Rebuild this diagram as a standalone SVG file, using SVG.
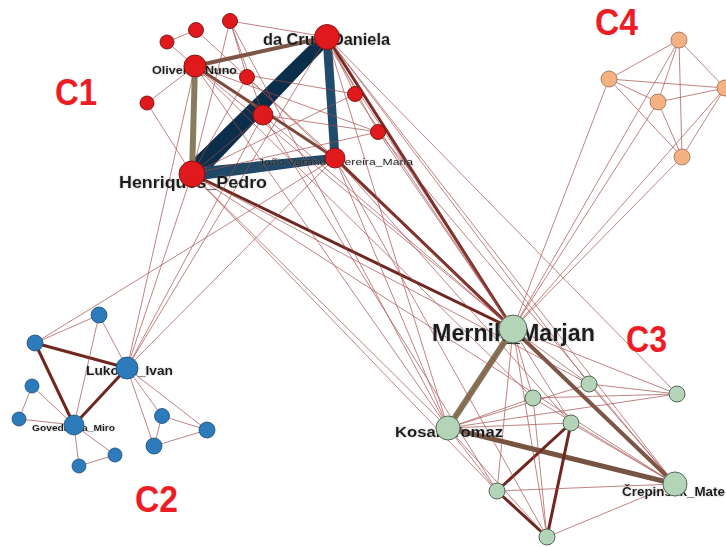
<svg xmlns="http://www.w3.org/2000/svg" width="726" height="547" viewBox="0 0 726 547">
  <style>
    .thin { stroke: #a44848; stroke-width: 0.8; fill: none; opacity: 0.85; }
    .w3 { stroke: #70271f; stroke-width: 3; fill: none; }
    .lbl { font-family: "Liberation Sans", Arial, sans-serif; fill: #1c1c1c; filter: url(#halo); }
    .b { font-weight: bold; }
    .cl { font-family: "Liberation Sans", Arial, sans-serif; font-weight: bold; font-size: 37px; fill: #ee1c25; }
    .red circle { fill: #e01a1c; stroke: #7a0e0e; stroke-width: 0.9; }
    .blue circle { fill: #2d7bba; stroke: #1c4e78; stroke-width: 0.8; }
    .green circle { fill: #b4d4b7; stroke: #56685a; stroke-width: 1; }
    .orange circle { fill: #f4b182; stroke: #9a6c4e; stroke-width: 0.8; }
  </style>
  <defs>
    <filter id="halo" x="-10%" y="-40%" width="120%" height="180%">
      <feGaussianBlur in="SourceAlpha" stdDeviation="1.3" result="b"/>
      <feFlood flood-color="#8c8c8c" flood-opacity="0.55"/>
      <feComposite in2="b" operator="in" result="g"/>
      <feMerge><feMergeNode in="g"/><feMergeNode in="SourceGraphic"/></feMerge>
    </filter>
  </defs>
  <rect width="726" height="547" fill="#ffffff"/>

  <!-- connectors -->
  <g id="edges">
    <!-- weighted ties -->
    <polygon points="185,167 199,181 331,42 323,32" fill="#0b2e4a"/>
    <line x1="327" y1="37" x2="335" y2="158" stroke="#214c6b" stroke-width="9"/>
    <polygon points="191,168 193,181 336,162 334,154" fill="#204968"/>
    <line x1="195" y1="66" x2="192" y2="174" stroke="#877c5d" stroke-width="6"/>
    <line x1="195" y1="66" x2="327" y2="37" stroke="#7b5646" stroke-width="4"/>
    <line x1="195" y1="66" x2="335" y2="158" stroke="#7a4a3a" stroke-width="3"/>
    <line x1="513" y1="329" x2="448" y2="428" stroke="#807657" stroke-width="6"/>
    <line x1="513" y1="329" x2="675" y2="484" stroke="#765846" stroke-width="4"/>
    <line x1="448" y1="428" x2="675" y2="484" stroke="#755541" stroke-width="5"/>
    <line class="w3" x1="513" y1="329" x2="192" y2="174"/>
    <line class="w3" x1="513" y1="329" x2="335" y2="158"/>
    <line class="w3" x1="513" y1="329" x2="327" y2="37"/>
    <line class="w3" x1="497" y1="491" x2="571" y2="423"/>
    <line class="w3" x1="547" y1="537" x2="571" y2="423"/>
    <line class="w3" x1="497" y1="491" x2="547" y2="537"/>
    <line class="w3" x1="35" y1="343" x2="127" y2="368"/>
    <line class="w3" x1="35" y1="343" x2="74" y2="425"/>
    <line class="w3" x1="74" y1="425" x2="127" y2="368"/>

    <!-- single ties -->
    <g class="thin">
      <!-- C1 inner -->
      <line x1="167" y1="42" x2="196" y2="30"/>
      <line x1="167" y1="42" x2="195" y2="66"/>
      <line x1="196" y1="30" x2="247" y2="77"/>
      <line x1="230" y1="21" x2="327" y2="37"/>
      <line x1="230" y1="21" x2="247" y2="77"/>
      <line x1="230" y1="21" x2="192" y2="174"/>
      <line x1="230" y1="21" x2="263" y2="115"/>
      <line x1="147" y1="103" x2="195" y2="66"/>
      <line x1="147" y1="103" x2="192" y2="174"/>
      <line x1="247" y1="77" x2="192" y2="174"/>
      <line x1="247" y1="77" x2="335" y2="158"/>
      <line x1="355" y1="94" x2="327" y2="37"/>
      <line x1="355" y1="94" x2="192" y2="174"/>
      <line x1="378" y1="132" x2="327" y2="37"/>
      <line x1="378" y1="132" x2="263" y2="115"/>
      <line x1="378" y1="132" x2="192" y2="174"/>
      <line x1="263" y1="115" x2="192" y2="174"/>
      <line x1="195" y1="66" x2="355" y2="94"/>
      <line x1="195" y1="66" x2="378" y2="132"/>
      <line x1="330" y1="40" x2="513" y2="329"/>
      <line x1="324" y1="39" x2="513" y2="329"/>
      <!-- C1 to C3 -->
      <line x1="195" y1="66" x2="513" y2="329"/>
      <line x1="195" y1="66" x2="448" y2="428"/>
      <line x1="195" y1="66" x2="533" y2="398"/>
      <line x1="192" y1="174" x2="448" y2="428"/>
      <line x1="192" y1="174" x2="497" y2="491"/>
      <line x1="192" y1="174" x2="675" y2="484"/>
      <line x1="192" y1="174" x2="589" y2="384"/>
      <line x1="327" y1="37" x2="448" y2="428"/>
      <line x1="327" y1="37" x2="589" y2="384"/>
      <line x1="327" y1="37" x2="675" y2="484"/>
      <line x1="327" y1="37" x2="677" y2="394"/>
      <line x1="335" y1="158" x2="448" y2="428"/>
      <line x1="335" y1="158" x2="571" y2="423"/>
      <line x1="335" y1="158" x2="547" y2="537"/>
      <line x1="335" y1="158" x2="675" y2="484"/>
      <line x1="263" y1="115" x2="513" y2="329"/>
      <line x1="263" y1="115" x2="497" y2="491"/>
      <line x1="355" y1="94" x2="513" y2="329"/>
      <line x1="378" y1="132" x2="513" y2="329"/>
      <line x1="378" y1="132" x2="675" y2="484"/>
      <line x1="247" y1="77" x2="513" y2="329"/>
      <line x1="230" y1="21" x2="448" y2="428"/>
      <!-- C1 to C2 -->
      <line x1="127" y1="368" x2="195" y2="66"/>
      <line x1="127" y1="368" x2="192" y2="174"/>
      <line x1="127" y1="368" x2="327" y2="37"/>
      <line x1="127" y1="368" x2="263" y2="115"/>
      <line x1="127" y1="368" x2="335" y2="158"/>
      <line x1="35" y1="343" x2="335" y2="158"/>
      <!-- C2 inner -->
      <line x1="35" y1="343" x2="99" y2="315"/>
      <line x1="99" y1="315" x2="127" y2="368"/>
      <line x1="99" y1="315" x2="74" y2="425"/>
      <line x1="32" y1="386" x2="19" y2="419"/>
      <line x1="32" y1="386" x2="74" y2="425"/>
      <line x1="19" y1="419" x2="74" y2="425"/>
      <line x1="74" y1="425" x2="79" y2="466"/>
      <line x1="74" y1="425" x2="115" y2="455"/>
      <line x1="79" y1="466" x2="115" y2="455"/>
      <line x1="127" y1="368" x2="162" y2="416"/>
      <line x1="127" y1="368" x2="154" y2="446"/>
      <line x1="127" y1="368" x2="207" y2="430"/>
      <line x1="162" y1="416" x2="207" y2="430"/>
      <line x1="154" y1="446" x2="207" y2="430"/>
      <line x1="162" y1="416" x2="154" y2="446"/>
      <!-- C3 inner -->
      <line x1="513" y1="329" x2="589" y2="384"/>
      <line x1="513" y1="329" x2="677" y2="394"/>
      <line x1="513" y1="329" x2="533" y2="398"/>
      <line x1="513" y1="329" x2="571" y2="423"/>
      <line x1="513" y1="329" x2="497" y2="491"/>
      <line x1="513" y1="329" x2="547" y2="537"/>
      <line x1="513" y1="329" x2="448" y2="428"/>
      <line x1="448" y1="428" x2="589" y2="384"/>
      <line x1="448" y1="428" x2="677" y2="394"/>
      <line x1="448" y1="428" x2="533" y2="398"/>
      <line x1="448" y1="428" x2="571" y2="423"/>
      <line x1="448" y1="428" x2="497" y2="491"/>
      <line x1="448" y1="428" x2="547" y2="537"/>
      <line x1="589" y1="384" x2="677" y2="394"/>
      <line x1="533" y1="398" x2="677" y2="394"/>
      <line x1="589" y1="384" x2="675" y2="484"/>
      <line x1="571" y1="423" x2="675" y2="484"/>
      <line x1="533" y1="398" x2="675" y2="484"/>
      <line x1="497" y1="491" x2="675" y2="484"/>
      <line x1="547" y1="537" x2="675" y2="484"/>
      <line x1="533" y1="398" x2="547" y2="537"/>
      <!-- C3 to C4 -->
      <line x1="513" y1="329" x2="679" y2="40"/>
      <line x1="513" y1="329" x2="609" y2="79"/>
      <line x1="513" y1="329" x2="658" y2="102"/>
      <line x1="513" y1="329" x2="725" y2="88"/>
      <line x1="513" y1="329" x2="682" y2="157"/>
      <!-- C4 inner -->
      <line x1="679" y1="40" x2="609" y2="79"/>
      <line x1="679" y1="40" x2="725" y2="88"/>
      <line x1="679" y1="40" x2="658" y2="102"/>
      <line x1="679" y1="40" x2="682" y2="157"/>
      <line x1="609" y1="79" x2="725" y2="88"/>
      <line x1="609" y1="79" x2="658" y2="102"/>
      <line x1="609" y1="79" x2="682" y2="157"/>
      <line x1="658" y1="102" x2="725" y2="88"/>
      <line x1="658" y1="102" x2="682" y2="157"/>
      <line x1="725" y1="88" x2="682" y2="157"/>
    </g>
  </g>

  <!-- community captions -->
  <text class="cl" x="55" y="105" textLength="42" lengthAdjust="spacingAndGlyphs">C1</text>
  <text class="cl" x="135" y="512" textLength="43" lengthAdjust="spacingAndGlyphs">C2</text>
  <text class="cl" x="626" y="352" textLength="41" lengthAdjust="spacingAndGlyphs">C3</text>
  <text class="cl" x="595" y="35" textLength="43" lengthAdjust="spacingAndGlyphs">C4</text>

  <!-- C1 members -->
  <g id="da-cruz-daniela" class="red">
    <text class="lbl b" x="263" y="45" font-size="16" textLength="127" lengthAdjust="spacingAndGlyphs">da Cruz_Daniela</text>
    <circle cx="327" cy="37" r="12.5"/>
  </g>
  <g id="oliveira-nuno" class="red">
    <text class="lbl b" x="152" y="74" font-size="10.5" textLength="85" lengthAdjust="spacingAndGlyphs">Oliveira_Nuno</text>
    <circle cx="195" cy="66" r="11"/>
  </g>
  <g id="henriques-pedro" class="red">
    <text class="lbl b" x="119" y="188" font-size="17" textLength="148" lengthAdjust="spacingAndGlyphs">Henriques_Pedro</text>
    <circle cx="192" cy="174" r="13"/>
  </g>
  <g id="joao-varanda-pereira-maria" class="red">
    <text class="lbl" x="258" y="165" font-size="9.5" textLength="155" lengthAdjust="spacingAndGlyphs">João Varanda Pereira_Maria</text>
    <circle cx="335" cy="158" r="10"/>
  </g>
  <g id="c1-n1" class="red"><circle cx="263" cy="115" r="10"/></g>
  <g id="c1-n2" class="red"><circle cx="167" cy="42" r="7"/></g>
  <g id="c1-n3" class="red"><circle cx="196" cy="30" r="7.5"/></g>
  <g id="c1-n4" class="red"><circle cx="230" cy="21" r="7.5"/></g>
  <g id="c1-n5" class="red"><circle cx="247" cy="77" r="7.5"/></g>
  <g id="c1-n6" class="red"><circle cx="147" cy="103" r="7"/></g>
  <g id="c1-n7" class="red"><circle cx="355" cy="94" r="7.5"/></g>
  <g id="c1-n8" class="red"><circle cx="378" cy="132" r="7.5"/></g>

  <!-- C2 members -->
  <g id="lukovic-ivan" class="blue">
    <text class="lbl b" x="86" y="375" font-size="12.5" textLength="87" lengthAdjust="spacingAndGlyphs">Lukovič_Ivan</text>
    <circle cx="127" cy="368" r="11"/>
  </g>
  <g id="govedarica-miro" class="blue">
    <text class="lbl b" x="32" y="431" font-size="9.5" textLength="83" lengthAdjust="spacingAndGlyphs">Govedarica_Miro</text>
    <circle cx="74" cy="425" r="10"/>
  </g>
  <g id="c2-n1" class="blue"><circle cx="99" cy="315" r="8"/></g>
  <g id="c2-n2" class="blue"><circle cx="35" cy="343" r="8"/></g>
  <g id="c2-n3" class="blue"><circle cx="32" cy="386" r="7"/></g>
  <g id="c2-n4" class="blue"><circle cx="19" cy="419" r="7"/></g>
  <g id="c2-n5" class="blue"><circle cx="79" cy="466" r="7"/></g>
  <g id="c2-n6" class="blue"><circle cx="115" cy="455" r="7"/></g>
  <g id="c2-n7" class="blue"><circle cx="162" cy="416" r="7.5"/></g>
  <g id="c2-n8" class="blue"><circle cx="207" cy="430" r="8"/></g>
  <g id="c2-n9" class="blue"><circle cx="154" cy="446" r="8"/></g>

  <!-- C3 members -->
  <g id="mernik-marjan" class="green">
    <text class="lbl b" x="432" y="341" font-size="23" textLength="163" lengthAdjust="spacingAndGlyphs">Mernik_Marjan</text>
    <circle cx="513" cy="329" r="14"/>
  </g>
  <g id="kosar-tomaz" class="green">
    <text class="lbl b" x="395" y="437" font-size="14" textLength="108" lengthAdjust="spacingAndGlyphs">Kosar_Tomaz</text>
    <circle cx="448" cy="428" r="12"/>
  </g>
  <g id="crepinsek-matej" class="green">
    <text class="lbl b" x="622" y="496" font-size="12" textLength="103" lengthAdjust="spacingAndGlyphs">Črepinšek_Mate</text>
    <circle cx="675" cy="484" r="12"/>
  </g>
  <g id="c3-n1" class="green"><circle cx="589" cy="384" r="8"/></g>
  <g id="c3-n2" class="green"><circle cx="677" cy="394" r="8"/></g>
  <g id="c3-n3" class="green"><circle cx="533" cy="398" r="8"/></g>
  <g id="c3-n4" class="green"><circle cx="571" cy="423" r="8"/></g>
  <g id="c3-n5" class="green"><circle cx="497" cy="491" r="8"/></g>
  <g id="c3-n6" class="green"><circle cx="547" cy="537" r="8"/></g>

  <!-- C4 members -->
  <g id="c4-n1" class="orange"><circle cx="679" cy="40" r="8"/></g>
  <g id="c4-n2" class="orange"><circle cx="609" cy="79" r="8"/></g>
  <g id="c4-n3" class="orange"><circle cx="658" cy="102" r="8"/></g>
  <g id="c4-n4" class="orange"><circle cx="725" cy="88" r="8"/></g>
  <g id="c4-n5" class="orange"><circle cx="682" cy="157" r="8"/></g>
</svg>
